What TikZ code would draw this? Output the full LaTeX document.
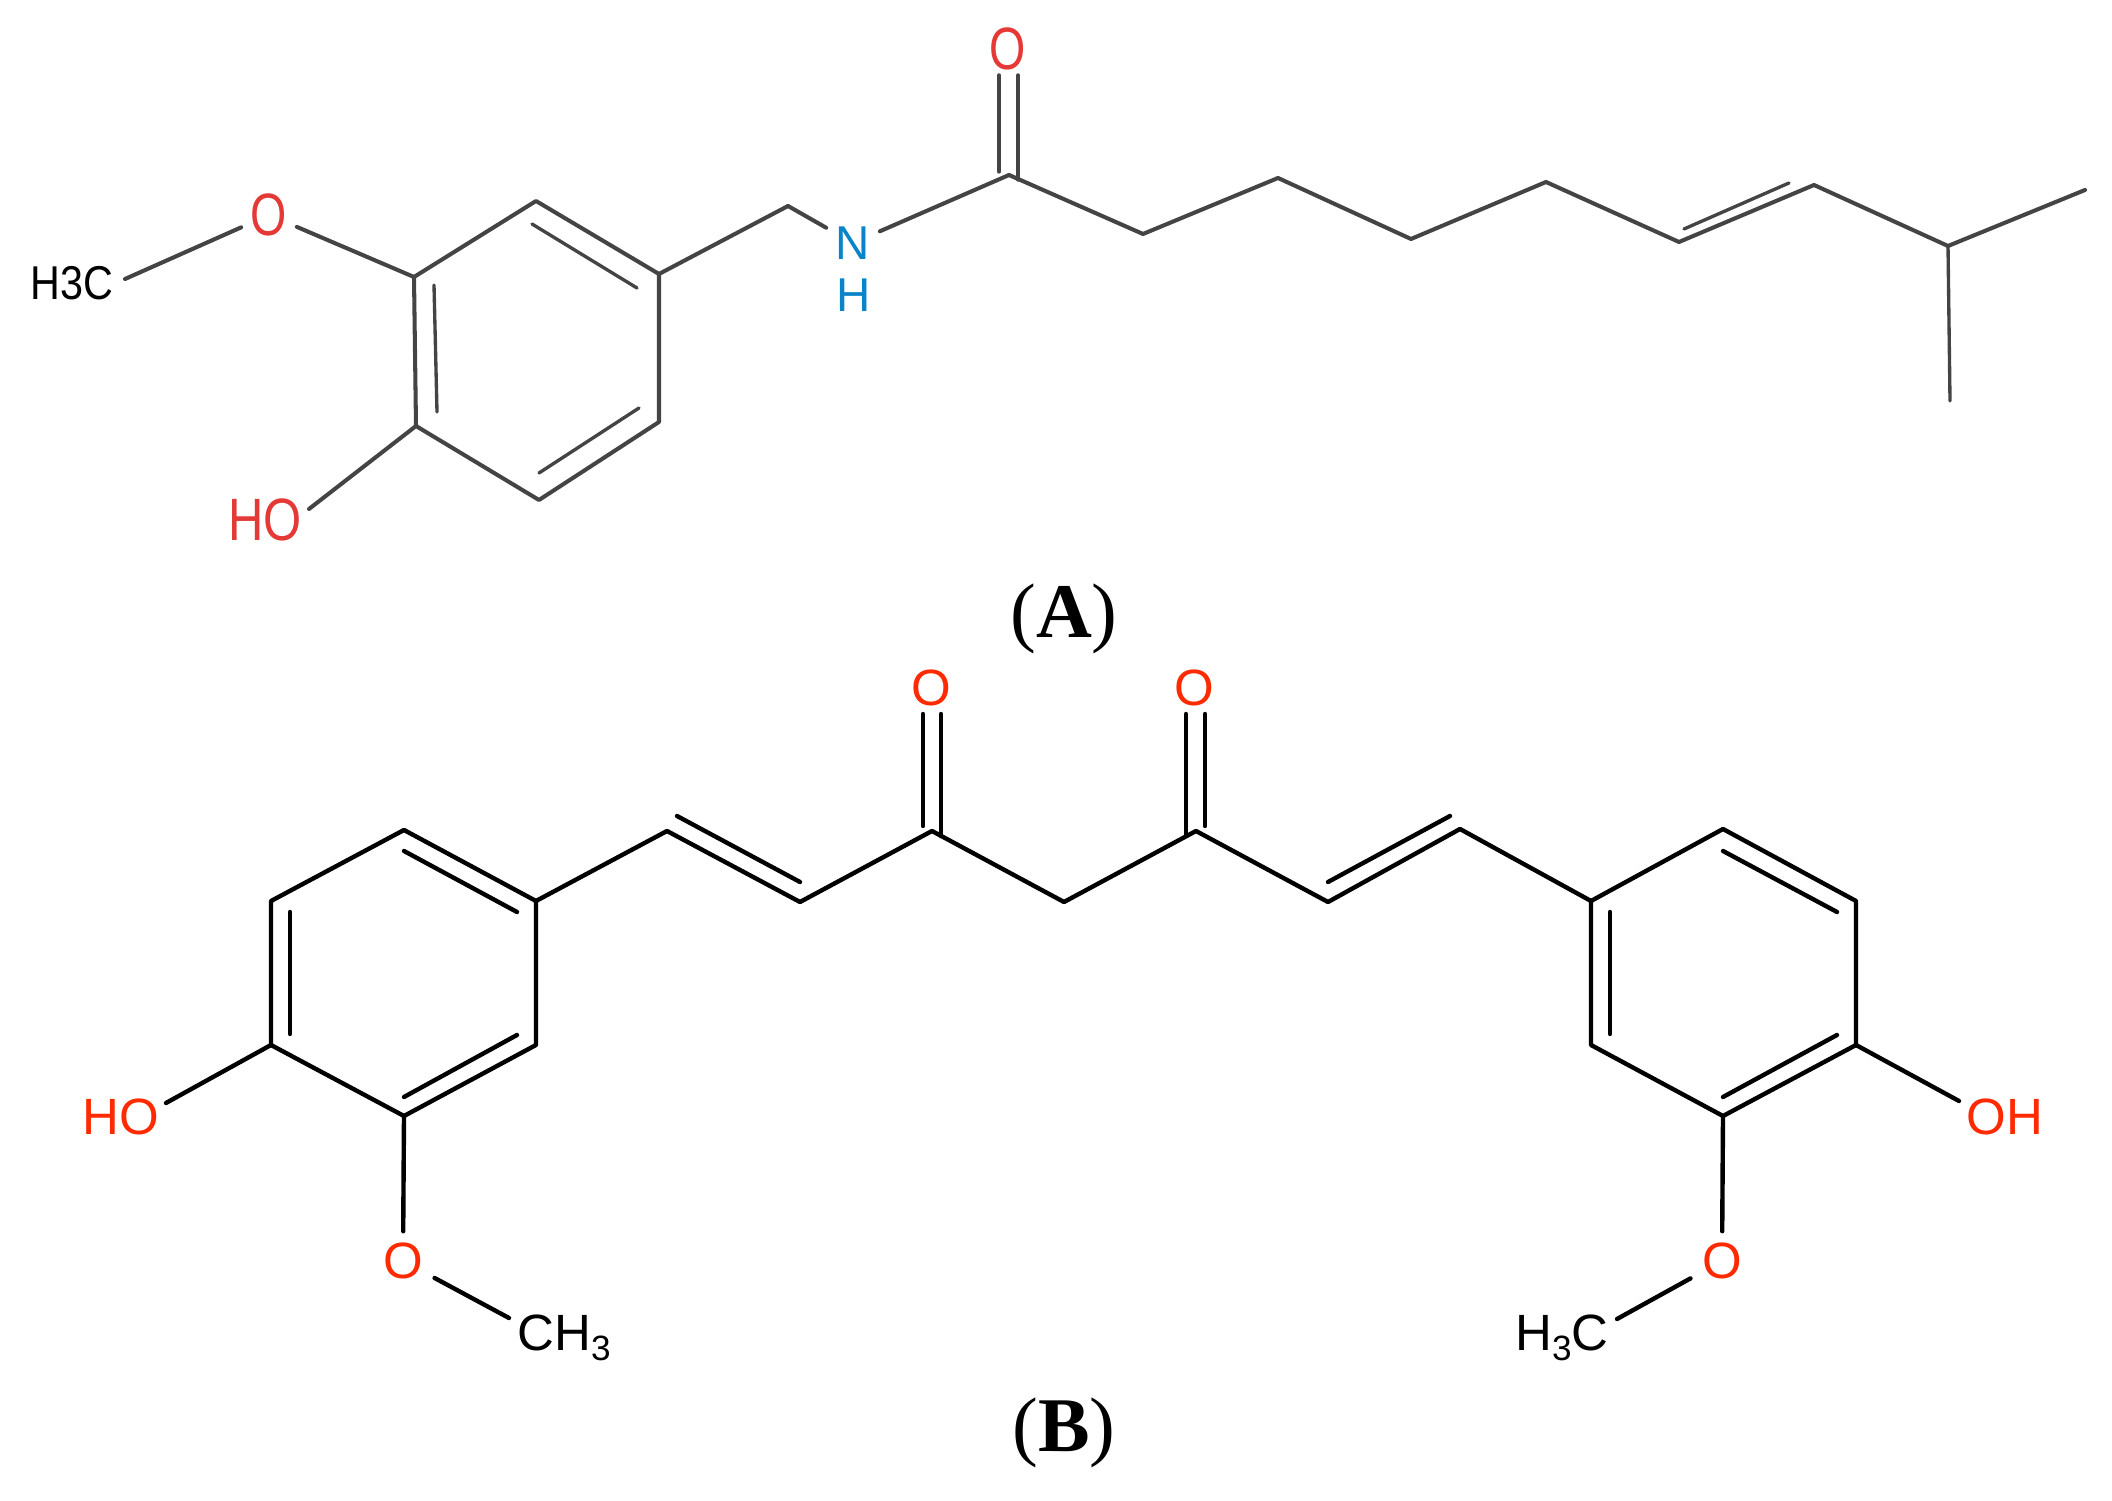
\documentclass[tikz,border=0pt]{standalone}
\usepackage{fontspec}
\setmainfont{Liberation Serif}
\newfontfamily\atomfont{Liberation Sans}
\usepackage{tikz}
\definecolor{redA}{HTML}{E53935}
\definecolor{blueA}{HTML}{0A84C8}
\definecolor{greyA}{HTML}{444444}
\definecolor{redB}{HTML}{FF2A00}
\newcommand{\narrowA}[2]{\scalebox{#1}[1]{#2}}
\newcommand{\subthree}{\raisebox{-0.35ex}{\fontsize{10}{10}\selectfont 3}}

\begin{document}
\begin{tikzpicture}
[x=0.01cm,y=-0.01cm,
bondA/.style={draw=greyA,line width=1.15pt,line cap=round,line join=round},
innerA/.style={draw=greyA,line width=0.95pt,line cap=round},
bondB/.style={draw=black,line width=1.25pt,line cap=round,line join=round},
oxyA/.style={text=redA,font=\atomfont\fontsize{17}{19}\selectfont,inner sep=0.09cm},
nitA/.style={text=blueA,font=\atomfont\fontsize{13.5}{15}\selectfont,inner sep=0.09cm},
methA/.style={text=black,font=\atomfont\fontsize{13.5}{15}\selectfont,inner sep=0pt},
oxyB/.style={text=redB,font=\atomfont\fontsize{14.5}{16}\selectfont,inner sep=0.11cm},
methB/.style={text=black,font=\atomfont\fontsize{14.5}{16}\selectfont,inner sep=0pt},
caption/.style={font=\fontsize{22}{26}\selectfont,inner sep=0pt}]
\useasboundingbox (0,0) rectangle (2112,1501);

\coordinate (ringA1) at (536,201);
\coordinate (ringA2) at (659,274);
\coordinate (ringA3) at (659,422);
\coordinate (ringA4) at (539,500);
\coordinate (ringA5) at (416,426);
\coordinate (ringA6) at (414,277);
\coordinate (chainA1) at (788,206);
\coordinate (chainA2) at (1009,175);
\coordinate (chainA3) at (1143,234);
\coordinate (chainA4) at (1278,178);
\coordinate (chainA5) at (1411,239);
\coordinate (chainA6) at (1546,182);
\coordinate (chainA7) at (1679,242);
\coordinate (chainA8) at (1814,185);
\coordinate (chainA9) at (1948,246);
\coordinate (chainA10) at (2085,190);
\coordinate (chainA11) at (1950,401);

\node[oxyA] (oA1) at (1008,49) {\narrowA{0.78}{O}};
\node[oxyA] (oA2) at (269,215) {\narrowA{0.78}{O}};
\node[oxyA] (hoA) at (265,520) {\narrowA{0.82}{HO}};
\node[nitA] (nA) at (853,243) {N};
\node[nitA] (hA) at (854,295) {H};
\node[methA] (meA) at (72,283) {\narrowA{0.87}{H3C}};
\node[caption] (capA) at (1064,619) {(\textbf{A})};

\coordinate (endA1) at (125,279);
\coordinate (endA2) at (309,509);
\coordinate (dblA1) at (999,75);
\coordinate (dblA2) at (999,172);
\coordinate (dblA3) at (1018,75);
\coordinate (dblA4) at (1018,180);
\coordinate (inA1) at (532,224);
\coordinate (inA2) at (637,288);
\coordinate (inA3) at (434,285);
\coordinate (inA4) at (437,412);
\coordinate (inA5) at (639,408);
\coordinate (inA6) at (539,473);
\coordinate (inA7) at (1684,229);
\coordinate (inA8) at (1789,183);

\draw [bondA] (ringA1) -- (ringA2) -- (ringA3) -- (ringA4) -- (ringA5) -- (ringA6) -- cycle;
\draw [innerA] (inA1) -- (inA2);
\draw [innerA] (inA3) -- (inA4);
\draw [innerA] (inA5) -- (inA6);
\draw [bondA] (ringA2) -- (chainA1);
\draw [bondA] (chainA1) -- (nA);
\draw [bondA] (nA) -- (chainA2);
\draw [innerA] (dblA1) -- (dblA2);
\draw [innerA] (dblA3) -- (dblA4);
\draw [bondA] (chainA2) -- (chainA3) -- (chainA4) -- (chainA5) -- (chainA6) -- (chainA7) -- (chainA8) -- (chainA9) -- (chainA10);
\draw [innerA] (inA7) -- (inA8);
\draw [innerA] (chainA9) -- (chainA11);
\draw [bondA] (ringA6) -- (oA2);
\draw [bondA] (oA2) -- (endA1);
\draw [bondA] (ringA5) -- (endA2);

\coordinate (ringB1) at (536,901);
\coordinate (ringB2) at (404,830);
\coordinate (ringB3) at (271,901);
\coordinate (ringB4) at (271,1045);
\coordinate (ringB5) at (404,1116);
\coordinate (ringB6) at (536,1045);
\coordinate (chainB1) at (667,831);
\coordinate (chainB2) at (800,902);
\coordinate (chainB3) at (932,831);
\coordinate (chainB4) at (1064,902);
\coordinate (chainB5) at (1196,831);
\coordinate (chainB6) at (1328,902);
\coordinate (chainB7) at (1460,829);
\coordinate (ringB7) at (1591,901);
\coordinate (ringB8) at (1723,829);
\coordinate (ringB9) at (1856,901);
\coordinate (ringB10) at (1856,1045);
\coordinate (ringB11) at (1723,1116);
\coordinate (ringB12) at (1591,1045);

\node[oxyB] (oB1) at (931,688) {O};
\node[oxyB] (oB2) at (1194,688) {O};
\node[oxyB] (oB3) at (403,1261) {O};
\node[oxyB] (oB4) at (1722,1261) {O};
\node[oxyB] (hoB) at (121,1117) {HO};
\node[oxyB] (ohB) at (2005,1117) {OH};
\node[methB] (meB1) at (564,1338) {CH\subthree};
\node[methB] (meB2) at (1562,1338) {H\subthree C};
\node[caption] (capB) at (1064,1433) {(\textbf{B})};

\coordinate (endB1) at (509,1318);
\coordinate (endB2) at (1617,1319);
\coordinate (endB3) at (166,1103);
\coordinate (endB4) at (1959,1101);
\coordinate (dblB1) at (923,714);
\coordinate (dblB2) at (923,826);
\coordinate (dblB3) at (941,714);
\coordinate (dblB4) at (941,836);
\coordinate (dblB5) at (1186,714);
\coordinate (dblB6) at (1186,836);
\coordinate (dblB7) at (1205,714);
\coordinate (dblB8) at (1205,826);
\coordinate (inB1) at (404,851);
\coordinate (inB2) at (517,912);
\coordinate (inB3) at (290,912);
\coordinate (inB4) at (290,1034);
\coordinate (inB5) at (404,1097);
\coordinate (inB6) at (517,1035);
\coordinate (inB7) at (677,816);
\coordinate (inB8) at (800,882);
\coordinate (inB9) at (1328,882);
\coordinate (inB10) at (1450,816);
\coordinate (inB11) at (1723,851);
\coordinate (inB12) at (1837,912);
\coordinate (inB13) at (1610,912);
\coordinate (inB14) at (1610,1034);
\coordinate (inB15) at (1723,1097);
\coordinate (inB16) at (1837,1035);

\draw [bondB] (ringB1) -- (ringB2) -- (ringB3) -- (ringB4) -- (ringB5) -- (ringB6) -- cycle;
\draw [bondB] (inB1) -- (inB2);
\draw [bondB] (inB3) -- (inB4);
\draw [bondB] (inB5) -- (inB6);
\draw [bondB] (ringB1) -- (chainB1) -- (chainB2) -- (chainB3) -- (chainB4) -- (chainB5) -- (chainB6) -- (chainB7) -- (ringB7);
\draw [bondB] (inB7) -- (inB8);
\draw [bondB] (inB9) -- (inB10);
\draw [bondB] (dblB1) -- (dblB2);
\draw [bondB] (dblB3) -- (dblB4);
\draw [bondB] (dblB5) -- (dblB6);
\draw [bondB] (dblB7) -- (dblB8);
\draw [bondB] (ringB7) -- (ringB8) -- (ringB9) -- (ringB10) -- (ringB11) -- (ringB12) -- cycle;
\draw [bondB] (inB11) -- (inB12);
\draw [bondB] (inB13) -- (inB14);
\draw [bondB] (inB15) -- (inB16);
\draw [bondB] (ringB4) -- (endB3);
\draw [bondB] (ringB10) -- (endB4);
\draw [bondB] (ringB5) -- (oB3);
\draw [bondB] (oB3) -- (endB1);
\draw [bondB] (ringB11) -- (oB4);
\draw [bondB] (oB4) -- (endB2);
\end{tikzpicture}
\end{document}
